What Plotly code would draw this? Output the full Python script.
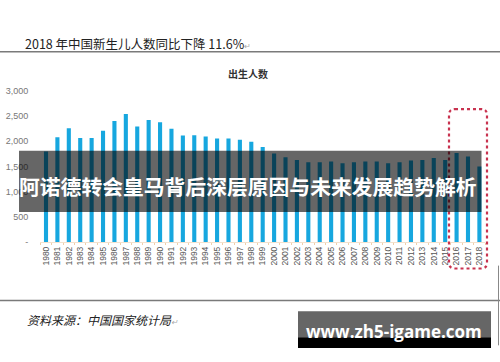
import plotly.graph_objects as go

years = [str(y) for y in range(1980, 2019)]
births = [1794, 2077, 2256, 2064, 2064, 2205, 2397, 2538, 2288, 2417,
          2372, 2244, 2109, 2115, 2090, 2051, 2051, 2026, 1987, 1885,
          1756, 1679, 1628, 1583, 1583, 1596, 1564, 1583, 1596, 1596,
          1564, 1583, 1615, 1628, 1667, 1628, 1763, 1698, 1500]
y_ticks = [0, 500, 1000, 1500, 2000, 2500, 3000]
y_tick_labels = ["-", "500", "1,000", "1,500", "2,000", "2,500", "3,000"]

W, H = 500, 362
def px(x):
    return x / W
def py(y):
    return 1 - y / H

fig = go.Figure()
fig.add_trace(go.Bar(x=years, y=births, marker=dict(color="#17a7df", line=dict(width=0)),
                     hoverinfo="x+y"))

fig.update_layout(
    width=W, height=H,
    margin=dict(l=0, r=0, t=0, b=0),
    paper_bgcolor="white", plot_bgcolor="white",
    showlegend=False, bargap=0.64,
    xaxis=dict(domain=[px(40.3), px(485.1)], type="category",
               tickangle=-90, tickfont=dict(size=8.5, color="#555", family="Liberation Sans"),
               showgrid=False, showline=True, linecolor="#f3e2cf", linewidth=1,
               ticks="outside", tickson="boundaries", ticklen=2, tickcolor="#f0cfa8",
               zeroline=False),
    yaxis=dict(domain=[py(244), py(88)], range=[0, 3000],
               tickvals=y_ticks, ticktext=y_tick_labels,
               tickfont=dict(size=9, color="#777", family="Liberation Sans"),
               showgrid=False, zeroline=False, showline=False, ticks="",
               ticklabelstandoff=11),
)

shapes = []
# horizontal document lines
shapes.append(dict(type="line", xref="paper", yref="paper", x0=0, x1=1, y0=py(48), y1=py(48),
                   line=dict(color="#7a7a7a", width=1.5)))
shapes.append(dict(type="line", xref="paper", yref="paper", x0=0, x1=1, y0=py(304), y1=py(304),
                   line=dict(color="#7a7a7a", width=1.5)))
shapes.append(dict(type="line", xref="paper", yref="paper", x0=px(498.5), x1=px(498.5), y0=py(268), y1=py(350),
                   line=dict(color="#888", width=1)))
# red dotted rounded rectangle
x0, x1, y0, y1, r = 449, 487, 107, 271, 6
path = (f"M {px(x0+r)},{py(y0)} L {px(x1-r)},{py(y0)} Q {px(x1)},{py(y0)} {px(x1)},{py(y0+r)} "
        f"L {px(x1)},{py(y1-r)} Q {px(x1)},{py(y1)} {px(x1-r)},{py(y1)} "
        f"L {px(x0+r)},{py(y1)} Q {px(x0)},{py(y1)} {px(x0)},{py(y1-r)} "
        f"L {px(x0)},{py(y0+r)} Q {px(x0)},{py(y0)} {px(x0+r)},{py(y0)} Z")
shapes.append(dict(type="path", xref="paper", yref="paper", path=path,
                   line=dict(color="#c8324f", width=2.2, dash="dot"), layer="above"))
# dark overlay band
shapes.append(dict(type="rect", xref="paper", yref="paper", x0=px(19), x1=px(481.5), y0=py(213), y1=py(150),
                   fillcolor="rgba(0,0,0,0.6)", line=dict(width=0), layer="above"))
# watermark box
shapes.append(dict(type="rect", xref="paper", yref="paper", x0=px(298), x1=px(491), y0=py(341.7), y1=py(315),
                   fillcolor="#666666", line=dict(width=0), layer="above"))
shapes.append(dict(type="rect", xref="paper", yref="paper", x0=px(298), x1=px(491), y0=py(352.7), y1=py(341.7),
                   fillcolor="#000000", line=dict(width=0), layer="above"))
fig.update_layout(shapes=shapes)

cjk = "Noto Sans CJK SC"
ann = [
    dict(text='2018 年中国新生儿人数同比下降 11.6%<span style="color:#aaa;font-size:8px">↵</span>',
         x=px(23), y=py(40), xanchor="left", yanchor="middle",
         font=dict(size=12.5, color="#222", family=cjk)),
    dict(text="<b>出生人数</b>", x=px(248), y=py(70), xanchor="center", yanchor="middle",
         font=dict(size=10, color="#333", family=cjk)),
    dict(text='资料来源：中国国家统计局<span style="color:#aaa;font-size:8px">↵</span>',
         x=px(25), y=py(323), xanchor="left", yanchor="middle",
         font=dict(size=12, color="#222", family=cjk, style="italic")),
    dict(text="<b>阿诺德转会皇马背后深层原因与未来发展趋势解析</b>",
         x=px(248), y=py(186.5), xanchor="center", yanchor="middle",
         font=dict(size=20.8, color="white", family=cjk)),
    dict(text="<b>www.zh5-igame.com</b>",
         x=px(394), y=py(335.5), xanchor="center", yanchor="middle",
         font=dict(size=17, color="white", family="Open Sans")),
]
for a in ann:
    a.update(xref="paper", yref="paper", showarrow=False)
fig.update_layout(annotations=ann)

fig.write_html("out.html")
